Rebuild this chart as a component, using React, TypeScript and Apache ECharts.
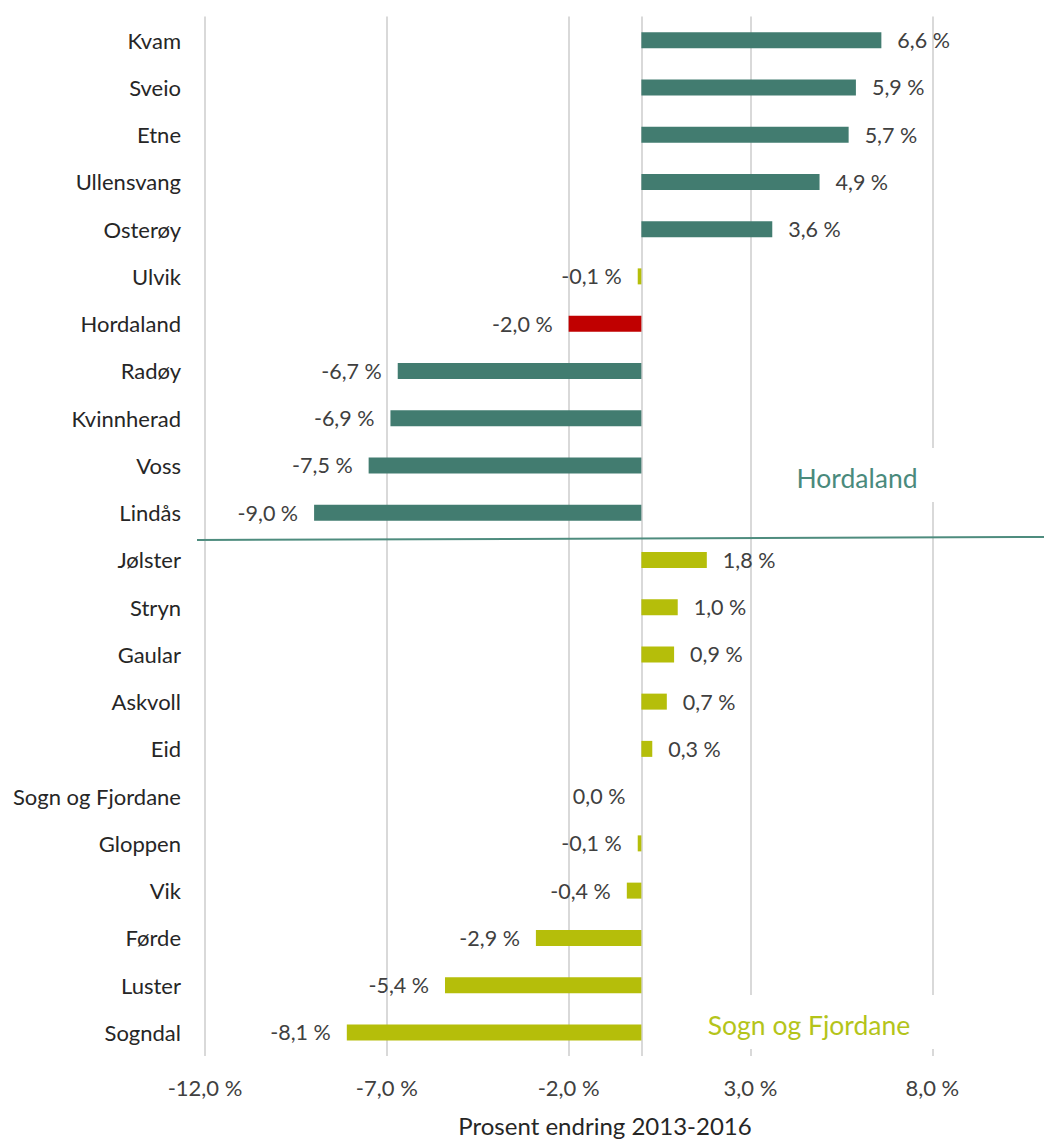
import React, { useEffect, useRef } from "react";
import * as echarts from "echarts";

const categories = [
  "Kvam", "Sveio", "Etne", "Ullensvang", "Osterøy", "Ulvik", "Hordaland",
  "Radøy", "Kvinnherad", "Voss", "Lindås",
  "Jølster", "Stryn", "Gaular", "Askvoll", "Eid", "Sogn og Fjordane",
  "Gloppen", "Vik", "Førde", "Luster", "Sogndal",
];
const values = [
  6.6, 5.9, 5.7, 4.9, 3.6, -0.1, -2.0, -6.7, -6.9, -7.5, -9.0,
  1.8, 1.0, 0.9, 0.7, 0.3, 0.0, -0.1, -0.4, -2.9, -5.4, -8.1,
];
const barGroups = [
  "h", "h", "h", "h", "h", "s", "r", "h", "h", "h", "h",
  "s", "s", "s", "s", "s", "s", "s", "s", "s", "s", "s",
];
const tickValues = [-12, -7, -2, 3, 8];
const zeroLine = [0];
const axisMin = -12;
const axisMax = 10;

const TEAL = "#427C70";
const RED = "#C00000";
const LIME = "#B5BE0A";
const colorMap: Record<string, string> = { h: TEAL, r: RED, s: LIME };
const FONT = "Lato";

const fmt = (v: number) => v.toFixed(1).replace(".", ",") + " %";

export default function App() {
  const ref = useRef<HTMLDivElement>(null);
  useEffect(() => {
    if (!ref.current) return;
    const chart = echarts.init(ref.current, undefined, { renderer: "svg" });
    chart.setOption({
      animation: false,
      backgroundColor: "#ffffff",
      grid: { left: 205, right: 39, top: 16.5, bottom: 85.5, containLabel: false },
      xAxis: {
        type: "value",
        min: axisMin,
        max: axisMax,
        axisLine: { show: false },
        axisTick: { show: false },
        splitLine: { show: false },
        axisLabel: {
          customValues: tickValues,
          formatter: (v: number) => fmt(v),
          color: "#404040",
          fontSize: 22,
          fontFamily: FONT,
          margin: 20,
        },
        name: "Prosent endring 2013-2016",
        nameLocation: "middle",
        nameGap: 57,
        nameTextStyle: { color: "#262626", fontSize: 24, fontFamily: FONT },
      },
      yAxis: {
        type: "category",
        inverse: true,
        data: categories,
        axisLine: { show: false },
        axisTick: { show: false },
        splitLine: { show: false },
        axisLabel: { color: "#262626", fontSize: 22, fontFamily: FONT, margin: 24 },
      },
      series: [
        {
          type: "bar",
          z: 2,
          barWidth: 16,
          data: values.map((v, i) => ({
            value: v,
            itemStyle: { color: colorMap[barGroups[i]] },
            label: { position: v > 0 ? "right" : "left" },
          })),
          label: {
            show: true,
            distance: 16,
            color: "#404040",
            fontSize: 21.5,
            fontFamily: FONT,
            formatter: (p: any) => fmt(p.value),
          },
          markLine: {
            silent: true,
            z: 1,
            symbol: ["none", "none"],
            label: { show: false },
            lineStyle: { color: "#D9D9D9", width: 2, type: "solid" },
            data: [...tickValues, ...zeroLine].map((v) => ({ xAxis: v })),
          },
        },
      ],
      graphic: [
        { type: "rect", z: 10, shape: { x: 778, y: 448, width: 162, height: 54 }, style: { fill: "#ffffff" } },
        {
          type: "text", z: 11, x: 857, y: 478,
          style: { text: "Hordaland", fill: "#4A8A7C", fontSize: 26.5, fontFamily: FONT, align: "center", verticalAlign: "middle" },
        },
        { type: "rect", z: 10, shape: { x: 693, y: 995, width: 250, height: 54 }, style: { fill: "#ffffff" } },
        {
          type: "text", z: 11, x: 809, y: 1025,
          style: { text: "Sogn og Fjordane", fill: "#B4C41A", fontSize: 26.5, fontFamily: FONT, align: "center", verticalAlign: "middle" },
        },
        {
          type: "line", z: 12,
          shape: { x1: 197, y1: 540, x2: 1044, y2: 537 },
          style: { stroke: "#4E8C7E", lineWidth: 2 },
        },
      ],
    });
    return () => chart.dispose();
  }, []);
  return (
    <div
      ref={ref}
      style={{ position: "absolute", left: 0, top: 0, width: 1044, height: 1142 }}
    />
  );
}
